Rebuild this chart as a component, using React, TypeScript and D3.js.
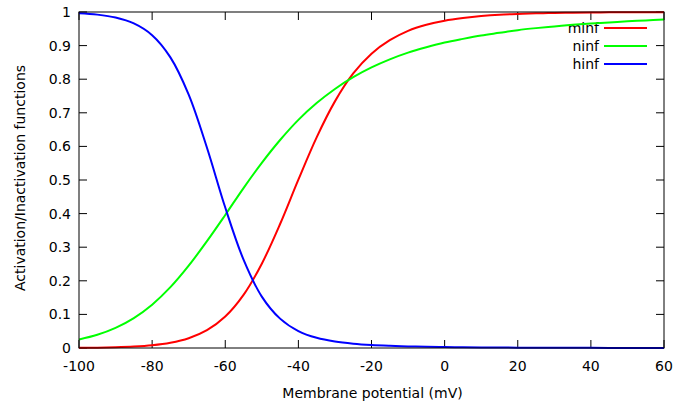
import React from "react";
import * as d3 from "d3";

const voltages = [-100,-95,-90,-85,-80,-75,-70,-65,-60,-55,-50,-45,-40,-35,-30,-25,-20,-15,-10,-5,0,5,10,15,20,25,30,35,40,45,50,55,60];
const minf = [0.0005,0.0011,0.0021,0.0041,0.0080,0.0154,0.0289,0.0529,0.0936,0.158,0.251,0.369,0.501,0.627,0.734,0.817,0.876,0.916,0.944,0.962,0.974,0.982,0.988,0.992,0.994,0.996,0.997,0.998,0.9985,0.999,0.9993,0.9995,0.9996];
const ninf = [0.0255,0.0394,0.0600,0.0892,0.129,0.181,0.245,0.318,0.396,0.476,0.551,0.619,0.679,0.729,0.771,0.806,0.835,0.859,0.879,0.895,0.909,0.920,0.930,0.938,0.946,0.952,0.957,0.962,0.966,0.969,0.9725,0.975,0.978];
const hinf = [0.9963,0.9922,0.9836,0.966,0.931,0.865,0.754,0.596,0.418,0.263,0.153,0.0874,0.0504,0.0303,0.0192,0.0128,0.0089,0.0065,0.0048,0.0037,0.0028,0.0022,0.0017,0.0013,0.0010,0.0008,0.0006,0.0005,0.0004,0.0003,0.0002,0.0002,0.0001];
const xTicks = [-100,-80,-60,-40,-20,0,20,40,60];
const yTicks = [0,0.1,0.2,0.3,0.4,0.5,0.6,0.7,0.8,0.9,1];
const seriesNames = ["minf","ninf","hinf"];
const seriesColors = ["#ff0000","#00ff00","#0000ff"];

const W = 673, H = 405;
const L = 79, R = 664, T = 12, B = 348;
const FONT = "DejaVu Sans, sans-serif";
const FS = 14;

export default function App() {
  const x = d3.scaleLinear().domain([-100, 60]).range([L, R]);
  const y = d3.scaleLinear().domain([0, 1]).range([B, T]);
  const line = d3.line<number>()
    .x((_, i) => x(voltages[i]))
    .y((d) => y(d))
    .curve(d3.curveCatmullRom.alpha(0.5));
  const series = [minf, ninf, hinf];
  const tickLen = 8;
  return (
    <svg width={W} height={H} style={{ position: "absolute", left: 0, top: 0 }} fontFamily={FONT}>
      <rect x={0} y={0} width={W} height={H} fill="#fff" />
      {xTicks.map((t) => (
        <g key={"x" + t}>
          <line x1={x(t)} x2={x(t)} y1={B} y2={B - tickLen} stroke="#000" />
          <line x1={x(t)} x2={x(t)} y1={T} y2={T + tickLen} stroke="#000" />
          <text x={x(t)} y={371} fontSize={FS} textAnchor="middle">{t}</text>
        </g>
      ))}
      {yTicks.map((t) => (
        <g key={"y" + t}>
          <line x1={L} x2={L + tickLen} y1={y(t)} y2={y(t)} stroke="#000" />
          <line x1={R} x2={R - tickLen} y1={y(t)} y2={y(t)} stroke="#000" />
          <text x={71} y={y(t)} dy="0.36em" fontSize={FS} textAnchor="end">{t}</text>
        </g>
      ))}
      <text x={(L + R) / 2 + 1} y={398} fontSize={FS} textAnchor="middle">Membrane potential (mV)</text>
      <text transform={`translate(25,${(T + B) / 2 - 2}) rotate(-90)`} fontSize={FS} textAnchor="middle">Activation/Inactivation functions</text>
      <defs>
        <clipPath id="plotclip"><rect x={L} y={T - 1} width={R - L} height={B - T + 2} /></clipPath>
      </defs>
      {series.map((s, i) => (
        <g key={seriesNames[i]}>
          <text x={599} y={28 + i * 18} dy="0.36em" fontSize={FS} textAnchor="end">{seriesNames[i]}</text>
          <line x1={604} x2={647} y1={28 + i * 18} y2={28 + i * 18} stroke={seriesColors[i]} strokeWidth={2} />
          <path d={line(s) || ""} fill="none" stroke={seriesColors[i]} strokeWidth={2} clipPath="url(#plotclip)" />
        </g>
      ))}
      <rect x={L} y={T} width={R - L} height={B - T} fill="none" stroke="#000" strokeWidth={1} />
    </svg>
  );
}
